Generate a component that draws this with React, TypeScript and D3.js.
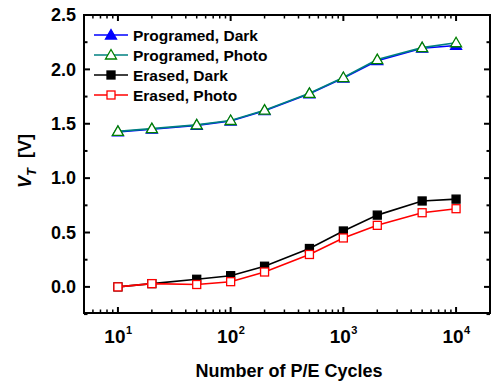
import React from "react";
import * as d3 from "d3";

const cycles = [10, 20, 50, 100, 200, 500, 1000, 2000, 5000, 10000];
const progDark = [1.425, 1.45, 1.485, 1.525, 1.62, 1.775, 1.92, 2.08, 2.195, 2.22];
const progPhoto = [1.43, 1.455, 1.49, 1.53, 1.625, 1.78, 1.925, 2.09, 2.2, 2.245];
const eraseDark = [0.0, 0.03, 0.07, 0.103, 0.19, 0.353, 0.514, 0.66, 0.79, 0.807];
const erasePhoto = [0.0, 0.03, 0.022, 0.048, 0.137, 0.298, 0.45, 0.566, 0.682, 0.719];
const yTicks = [0.0, 0.5, 1.0, 1.5, 2.0, 2.5];
const yMinor = [-0.25, 0.25, 0.75, 1.25, 1.75, 2.25];
const xExps = [1, 2, 3, 4];
const legendLabels = ["Programed, Dark", "Programed, Photo", "Erased, Dark", "Erased, Photo"];

const W = 493, H = 383;
const L = 84, R = 490, T = 15, B = 313;
const FONT = "Liberation Sans, Arial, sans-serif";

export default function App() {
  const x = d3.scaleLog().domain([5, 20000]).range([L, R]);
  const y = d3.scaleLinear().domain([-0.24, 2.5]).range([B, T]);
  const line = d3.line<number>().x((_, i) => x(cycles[i])).y((v) => y(v));

  const xMinor: number[] = [];
  for (let e = 0; e <= 4; e++) for (let k = 2; k <= 9; k++) {
    const v = k * Math.pow(10, e);
    if (v >= 5 && v <= 20000) xMinor.push(v);
  }

  const tri = (cx: number, cy: number, fill: string, stroke: string, key: string) => (
    <path key={key} d={`M${cx},${cy - 5.5}L${cx + 5.5},${cy + 4}L${cx - 5.5},${cy + 4}Z`} fill={fill} stroke={stroke} strokeWidth={1.3} />
  );
  const sq = (cx: number, cy: number, fill: string, stroke: string, key: string) => (
    <rect key={key} x={cx - 4} y={cy - 4} width={8} height={8} fill={fill} stroke={stroke} strokeWidth={1.3} />
  );

  const series = [
    { data: progDark, line: "#0000ff", marker: (cx: number, cy: number, k: string) => tri(cx, cy, "#0000ff", "#0000ff", k) },
    { data: progPhoto, line: "#008080", marker: (cx: number, cy: number, k: string) => tri(cx, cy, "#ffffff", "#008000", k) },
    { data: eraseDark, line: "#000000", marker: (cx: number, cy: number, k: string) => sq(cx, cy, "#000000", "#000000", k) },
    { data: erasePhoto, line: "#ff0000", marker: (cx: number, cy: number, k: string) => sq(cx, cy, "#ffffff", "#ff0000", k) },
  ];

  const legY = [35, 55, 75, 95];

  return (
    <svg width={W} height={H} style={{ position: "absolute", left: 0, top: 0, background: "#fff" }} fontFamily={FONT}>
      <rect x={0} y={0} width={W} height={H} fill="#fff" />
      {/* series */}
      {series.map((s, si) => (
        <g key={si}>
          <path d={line(s.data) || ""} fill="none" stroke={s.line} strokeWidth={1.6} />
          {s.data.map((v, i) => s.marker(x(cycles[i]), y(v), `${si}-${i}`))}
        </g>
      ))}
      {/* frame */}
      <rect x={L} y={T} width={R - L} height={B - T} fill="none" stroke="#000" strokeWidth={2} />
      {/* y ticks */}
      {yTicks.map((t) => (
        <g key={"y" + t}>
          <line x1={L} x2={L + 6} y1={y(t)} y2={y(t)} stroke="#000" strokeWidth={2} />
          <line x1={R} x2={R - 6} y1={y(t)} y2={y(t)} stroke="#000" strokeWidth={2} />
          <text x={L - 8} y={y(t)} dy="0.35em" textAnchor="end" fontSize={18} fontWeight="bold">{t.toFixed(1)}</text>
        </g>
      ))}
      {yMinor.map((t) => (
        <g key={"ym" + t}>
          <line x1={L} x2={L + 3.5} y1={y(t)} y2={y(t)} stroke="#000" strokeWidth={2} />
          <line x1={R} x2={R - 3.5} y1={y(t)} y2={y(t)} stroke="#000" strokeWidth={2} />
        </g>
      ))}
      {/* x ticks */}
      {xExps.map((e) => {
        const px = x(Math.pow(10, e));
        return (
          <g key={"x" + e}>
            <line x1={px} x2={px} y1={B} y2={B - 6} stroke="#000" strokeWidth={2} />
            <line x1={px} x2={px} y1={T} y2={T + 6} stroke="#000" strokeWidth={2} />
            <text x={px - 3} y={343} textAnchor="middle" fontSize={19} fontWeight="bold">10</text>
            <text x={px + 8} y={334} textAnchor="start" fontSize={11} fontWeight="bold">{e}</text>
          </g>
        );
      })}
      {xMinor.map((v) => (
        <g key={"xm" + v}>
          <line x1={x(v)} x2={x(v)} y1={B} y2={B - 3.5} stroke="#000" strokeWidth={1.5} />
          <line x1={x(v)} x2={x(v)} y1={T} y2={T + 3.5} stroke="#000" strokeWidth={1.5} />
        </g>
      ))}
      {/* legend */}
      {series.map((s, i) => (
        <g key={"leg" + i}>
          <line x1={94} x2={128} y1={legY[i]} y2={legY[i]} stroke={s.line} strokeWidth={1.6} />
          {s.marker(111, legY[i], "lm" + i)}
          <text x={133} y={legY[i]} dy="0.36em" fontSize={15.5} fontWeight="bold">{legendLabels[i]}</text>
        </g>
      ))}
      {/* axis titles */}
      <text x={289} y={377} textAnchor="middle" fontSize={18} fontWeight="bold">Number of P/E Cycles</text>
      <text transform="translate(31,161) rotate(-90)" textAnchor="middle" fontSize={18} fontWeight="bold">
        <tspan fontStyle="italic">V</tspan>
        <tspan fontStyle="italic" fontSize={13} dy={5}>T</tspan>
        <tspan dy={-5} xmlSpace="preserve">{"  [V]"}</tspan>
      </text>
    </svg>
  );
}
